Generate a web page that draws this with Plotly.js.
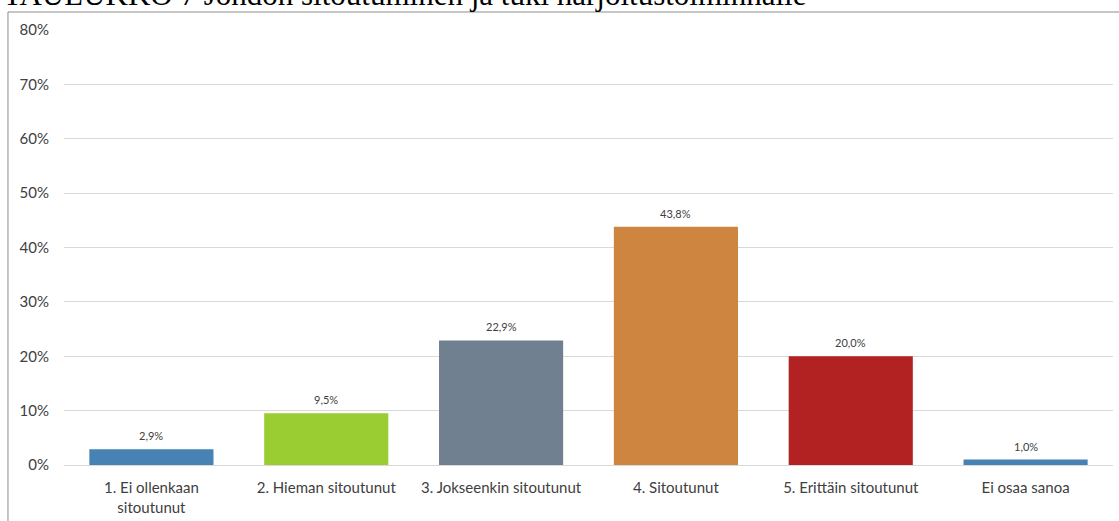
<!DOCTYPE html>
<html>
<head>
<meta charset="utf-8">
<script src="https://cdn.plot.ly/plotly-3.0.1.min.js"></script>
<style>
html,body{margin:0;padding:0;background:#fff;overflow:hidden;}
#chart{width:1119px;height:521px;}
</style>
</head>
<body>
<div id="chart"></div>
<script>
const chartTitle = "TAULUKKO 7 Johdon sitoutuminen ja tuki harjoitustoiminnalle";
const categories = ["1. Ei ollenkaan<br>sitoutunut", "2. Hieman sitoutunut", "3. Jokseenkin sitoutunut", "4. Sitoutunut", "5. Erittäin sitoutunut", "Ei osaa sanoa"];
const values = [2.9, 9.5, 22.9, 43.8, 20.0, 1.0];
const barColors = ["#4682B4", "#9ACD32", "#708090", "#CD853F", "#B22222", "#4682B4"];
const yTickVals = [0, 10, 20, 30, 40, 50, 60, 70, 80];
const yTickText = ["0%", "10%", "20%", "30%", "40%", "50%", "60%", "70%", "80%"];

const labels = values.map(v => v.toFixed(1).replace(".", ",") + "%");

const fontFam = "Lato, 'Liberation Sans', Arial, sans-serif";

const trace = {
  type: "bar",
  x: categories,
  y: values,
  marker: {color: barColors, line: {width: 0}},
  hoverinfo: "none"
};

const valueLabels = categories.map((c, i) => ({
  x: c,
  y: values[i],
  xref: "x",
  yref: "y",
  text: labels[i],
  showarrow: false,
  xanchor: "center",
  yanchor: "bottom",
  yshift: 5,
  font: {family: fontFam, size: 11, color: "#404040"}
}));

const layout = {
  width: 1119,
  height: 521,
  margin: {l: 64, r: 6, t: 30, b: 56, pad: 0},
  paper_bgcolor: "#ffffff",
  plot_bgcolor: "#ffffff",
  showlegend: false,
  bargap: 0.29,
  font: {family: fontFam, size: 15, color: "#404040"},
  xaxis: {
    type: "category",
    showgrid: false,
    showline: false,
    zeroline: false,
    ticks: "",
    ticklabelstandoff: 12,
    tickfont: {family: fontFam, size: 15, color: "#404040"},
    fixedrange: true
  },
  yaxis: {
    range: [0, 80],
    tickvals: yTickVals,
    ticktext: yTickText,
    showgrid: true,
    gridcolor: "#d9d9d9",
    gridwidth: 1,
    zeroline: true,
    zerolinecolor: "#d9d9d9",
    zerolinewidth: 1,
    showline: false,
    ticks: "",
    ticklabelstandoff: 14,
    tickfont: {family: fontFam, size: 15, color: "#404040"},
    fixedrange: true
  },
  shapes: [{
    type: "rect",
    xref: "paper", yref: "paper",
    x0: -0.0534, x1: 1.02, y0: -0.3, y1: 1.0414,
    line: {color: "#8c8c8c", width: 1},
    fillcolor: "rgba(0,0,0,0)",
    layer: "above"
  }],
  annotations: valueLabels.concat([{
    text: chartTitle,
    xref: "paper", yref: "paper",
    x: -0.06, y: 1.037,
    xanchor: "left", yanchor: "bottom",
    showarrow: false,
    font: {family: "'Liberation Serif', 'Times New Roman', serif", size: 31, color: "#000000"}
  }])
};

Plotly.newPlot("chart", [trace], layout, {displayModeBar: false, staticPlot: true});
</script>
</body>
</html>
